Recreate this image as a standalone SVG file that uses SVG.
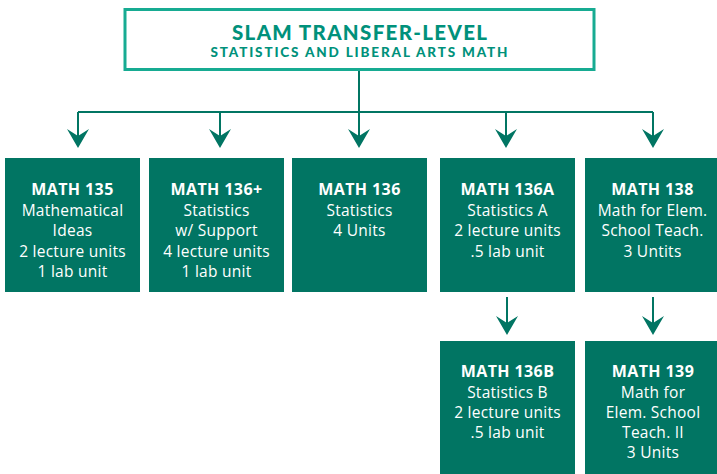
<svg xmlns="http://www.w3.org/2000/svg" width="717" height="474" viewBox="0 0 717 474">
<style>
.box{fill:#017563}
.t{font-family:"Open Sans","Liberation Sans",sans-serif;fill:#fff;text-anchor:middle;font-size:15.5px;letter-spacing:0.25px}
.h{font-weight:bold;font-size:16px;letter-spacing:0.4px}
.tt{font-family:Lato,"Open Sans","Liberation Sans",sans-serif;font-weight:900;fill:#00917b;text-anchor:middle}
.conn{stroke:#017563;stroke-width:2;fill:none}
.ah{fill:#017563}
</style>
<defs>
<path id="head" d="M0,0 L-11,-19 L0,-12 L11,-19 Z"/>
</defs>
<g id="title">
<rect x="125" y="9.5" width="469" height="60" fill="#fff" stroke="#17ab92" stroke-width="3"/>
<text class="tt" x="359.5" y="39.5" font-size="20.5" textLength="255" lengthAdjust="spacing">SLAM TRANSFER-LEVEL</text>
<text class="tt" x="359" y="57" font-size="13.5" textLength="297" lengthAdjust="spacing">STATISTICS AND LIBERAL ARTS MATH</text>
</g>
<g id="connectors">
<path class="conn" d="M359,71 V112 M78,112 H653 M78,112 V138 M220,112 V138 M359,112 V138 M506,112 V138 M653,112 V138 M507,297 V325 M653,297 V325"/>
<use href="#head" class="ah" x="78" y="148"/>
<use href="#head" class="ah" x="220" y="148"/>
<use href="#head" class="ah" x="359" y="148"/>
<use href="#head" class="ah" x="506" y="148"/>
<use href="#head" class="ah" x="653" y="148"/>
<use href="#head" class="ah" x="507" y="335"/>
<use href="#head" class="ah" x="653" y="335"/>
</g>
<g id="math135">
<rect class="box" x="5" y="158" width="135" height="134"/>
<text class="t h" x="72.5" y="195">MATH 135</text>
<text class="t" x="72.5" y="216">Mathematical</text>
<text class="t" x="72.5" y="236">Ideas</text>
<text class="t" x="72.5" y="257">2 lecture units</text>
<text class="t" x="72.5" y="277">1 lab unit</text>
</g>
<g id="math136plus">
<rect class="box" x="149" y="158" width="135" height="134"/>
<text class="t h" x="216.5" y="195">MATH 136+</text>
<text class="t" x="216.5" y="216">Statistics</text>
<text class="t" x="216.5" y="236">w/ Support</text>
<text class="t" x="216.5" y="257">4 lecture units</text>
<text class="t" x="216.5" y="277">1 lab unit</text>
</g>
<g id="math136">
<rect class="box" x="292" y="158" width="135" height="134"/>
<text class="t h" x="359.5" y="195">MATH 136</text>
<text class="t" x="359.5" y="216">Statistics</text>
<text class="t" x="359.5" y="236">4 Units</text>
</g>
<g id="math136a">
<rect class="box" x="440" y="158" width="135" height="134"/>
<text class="t h" x="507.5" y="195">MATH 136A</text>
<text class="t" x="507.5" y="216">Statistics A</text>
<text class="t" x="507.5" y="236">2 lecture units</text>
<text class="t" x="507.5" y="257">.5 lab unit</text>
</g>
<g id="math138">
<rect class="box" x="585" y="158" width="135" height="134"/>
<text class="t h" x="652.5" y="195">MATH 138</text>
<text class="t" x="652.5" y="216">Math for Elem.</text>
<text class="t" x="652.5" y="236">School Teach.</text>
<text class="t" x="652.5" y="257">3 Untits</text>
</g>
<g id="math136b">
<rect class="box" x="440" y="341" width="135" height="140"/>
<text class="t h" x="507.5" y="377">MATH 136B</text>
<text class="t" x="507.5" y="398">Statistics B</text>
<text class="t" x="507.5" y="418">2 lecture units</text>
<text class="t" x="507.5" y="438">.5 lab unit</text>
</g>
<g id="math139">
<rect class="box" x="585" y="341" width="135" height="140"/>
<text class="t h" x="653" y="377">MATH 139</text>
<text class="t" x="653" y="398">Math for</text>
<text class="t" x="653" y="418">Elem. School</text>
<text class="t" x="653" y="438">Teach. II</text>
<text class="t" x="653" y="458">3 Units</text>
</g>
</svg>
